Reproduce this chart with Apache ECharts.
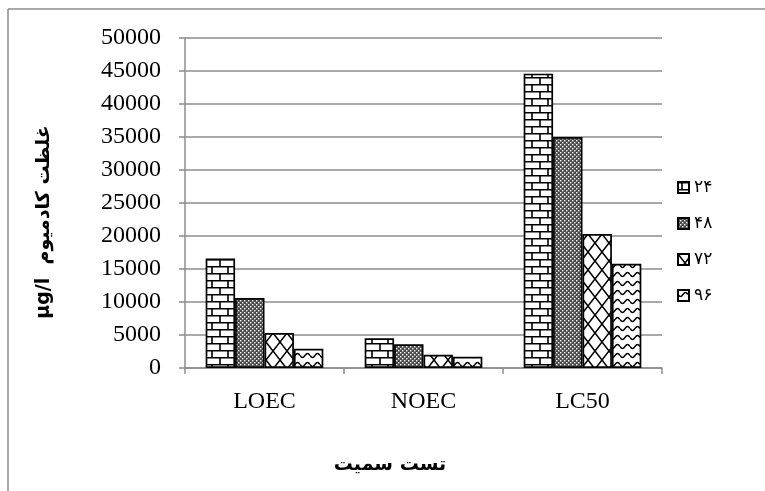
<!DOCTYPE html>
<html><head><meta charset="utf-8">
<script src="https://cdn.jsdelivr.net/npm/echarts@6/dist/echarts.min.js"></script>
<style>html,body{margin:0;padding:0;background:#fff}#c{width:765px;height:491px}</style>
</head><body><div id="c"></div>
<script>
const categories = ['LOEC', 'NOEC', 'LC50'];
const seriesNames = ['۲۴', '۴۸', '۷۲', '۹۶'];
const s24 = [16600, 4500, 44600];
const s48 = [10600, 3600, 35000];
const s72 = [5300, 2000, 20300];
const s96 = [2900, 1700, 15800];
const yMin = 0, yMax = 50000, yStep = 5000;
const yAxisTitle = 'µg/l  غلظت کادمیوم';
const xAxisTitle = 'تست سمیت';

function tile(w, h, draw) {
  const c = document.createElement('canvas');
  c.width = w; c.height = h;
  const g = c.getContext('2d');
  g.fillStyle = '#fff'; g.fillRect(0, 0, w, h);
  g.strokeStyle = '#000'; g.fillStyle = '#000';
  draw(g, w, h);
  return c;
}
const brick = tile(16, 14, (g, w, h) => {
  g.lineWidth = 1.6;
  g.beginPath();
  g.moveTo(0, 0.8); g.lineTo(w, 0.8);
  g.moveTo(0, 7.8); g.lineTo(w, 7.8);
  g.moveTo(4, 0); g.lineTo(4, 7);
  g.moveTo(12, 7); g.lineTo(12, 14);
  g.stroke();
});
const dots = tile(4, 4, (g, w, h) => {
  g.fillStyle = '#4a4a4a'; g.fillRect(0, 0, w, h);
  g.fillStyle = '#fff';
  g.fillRect(0, 0, 1.4, 1.4); g.fillRect(2, 2, 1.4, 1.4);
});
const diamond = tile(14, 18, (g, w, h) => {
  g.lineWidth = 1.5;
  g.beginPath();
  g.moveTo(0, 0); g.lineTo(w, h);
  g.moveTo(w, 0); g.lineTo(0, h);
  g.stroke();
});
const wave = tile(10, 9, (g, w, h) => {
  g.lineWidth = 1.5;
  g.beginPath();
  for (let x = 0; x <= w; x += 0.5) {
    const y = 4.5 + 2 * Math.sin(2 * Math.PI * x / w);
    if (x === 0) g.moveTo(x, y); else g.lineTo(x, y);
  }
  g.stroke();
});

const values = [s24, s48, s72, s96];
const patterns = [brick, dots, diamond, wave];

const chart = echarts.init(document.getElementById('c'));
const gray = '#8c8c8c';
chart.setOption({
  backgroundColor: '#fff',
  animation: false,
  grid: { left: 185, right: 103, top: 38, bottom: 123 },
  legend: {
    orient: 'vertical', left: 672, top: 173,
    itemWidth: 11, itemHeight: 11, itemGap: 17,
    icon: 'rect',
    textStyle: { fontFamily: 'DejaVu Sans', fontSize: 17, color: '#000', lineHeight: 19 },
    data: seriesNames
  },
  xAxis: {
    type: 'category', data: categories,
    axisLine: { lineStyle: { color: gray, width: 1.5 } },
    axisTick: { show: true, length: 6, lineStyle: { color: gray, width: 1.5 } },
    axisLabel: { fontFamily: 'Liberation Serif', fontSize: 24, color: '#000', margin: 22 }
  },
  yAxis: {
    type: 'value', min: yMin, max: yMax, interval: yStep,
    axisLine: { show: true, lineStyle: { color: gray, width: 1.5 } },
    axisTick: { show: true, length: 6, lineStyle: { color: gray, width: 1.5 } },
    splitLine: { lineStyle: { color: gray, width: 1.5 } },
    axisLabel: { fontFamily: 'Liberation Serif', fontSize: 24, color: '#000', margin: 24,
      formatter: v => String(v) }
  },
  series: seriesNames.map((n, i) => ({
    name: n, type: 'bar', data: values[i],
    barGap: '0%', barCategoryGap: '26%',
    itemStyle: { color: { image: patterns[i], repeat: 'repeat' }, borderColor: '#000', borderWidth: 1.7 }
  })),
  graphic: [
    { type: 'line', shape: { x1: 8, y1: 9, x2: 765, y2: 9 }, style: { stroke: gray, lineWidth: 1.5 } },
    { type: 'line', shape: { x1: 8, y1: 9, x2: 8, y2: 491 }, style: { stroke: gray, lineWidth: 1.5 } },
    { type: 'text', x: 44, y: 222, rotation: Math.PI / 2,
      style: { text: yAxisTitle, align: 'center', verticalAlign: 'middle', fontFamily: 'DejaVu Sans', fontWeight: 'bold', fontSize: 19, fill: '#000' } },
    { type: 'text', x: 390, y: 465,
      style: { text: xAxisTitle, align: 'center', verticalAlign: 'middle', fontFamily: 'DejaVu Sans', fontWeight: 'bold', fontSize: 19, fill: '#000' } }
  ]
});
</script></body></html>
